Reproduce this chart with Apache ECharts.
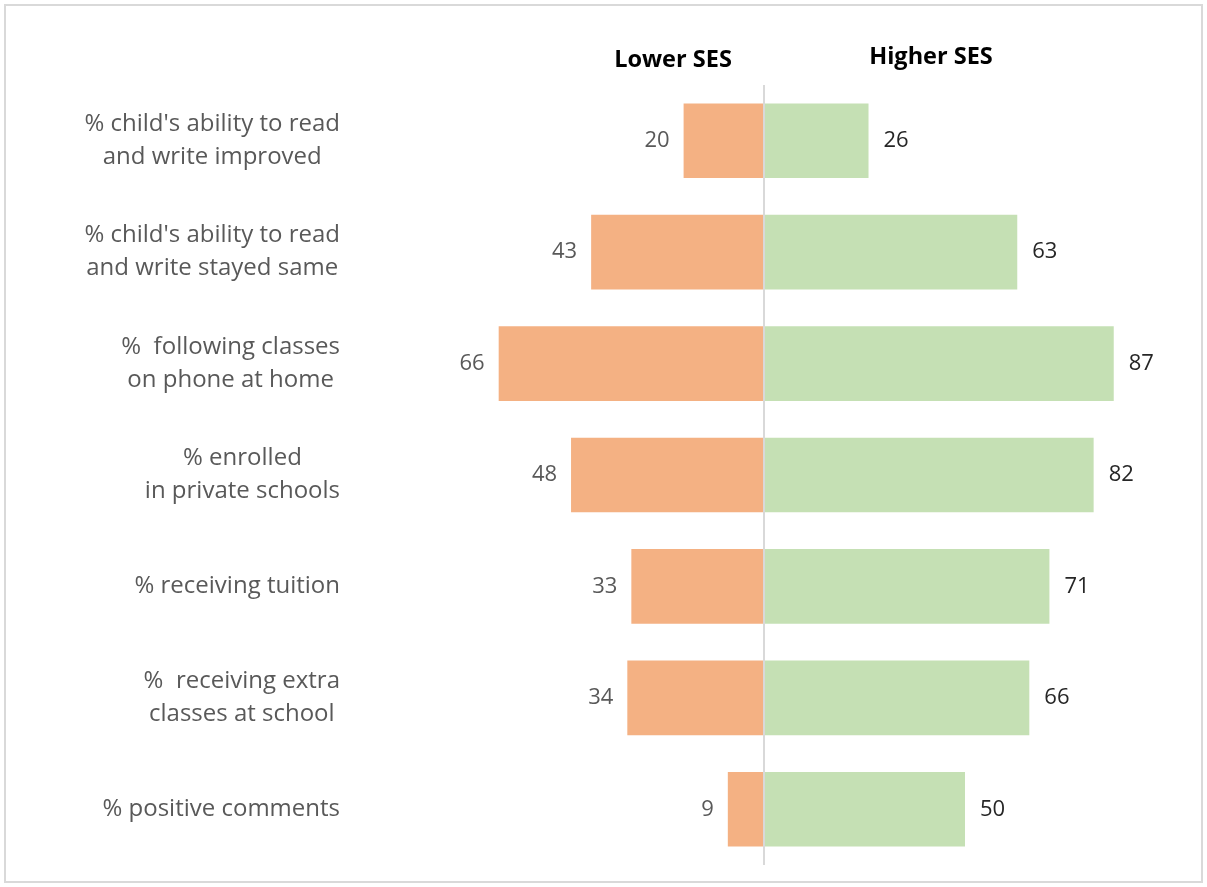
<!DOCTYPE html>
<html>
<head>
<meta charset="utf-8">
<script src="https://cdn.jsdelivr.net/npm/echarts@6/dist/echarts.min.js"></script>
<style>
html,body{margin:0;padding:0;background:#fff;}
#frame{position:absolute;left:4px;top:4px;width:1199px;height:879px;border:2px solid #d9d9d9;box-sizing:border-box;}
#chart{position:absolute;left:0;top:0;width:1207px;height:887px;}
</style>
</head>
<body>
<div id="frame"></div>
<div id="chart"></div>
<script>
const categories = [
  "% child's ability to read\nand write improved",
  "% child's ability to read\nand write stayed same",
  "%  following classes\non phone at home",
  "% enrolled\nin private schools",
  "% receiving tuition",
  "%  receiving extra\nclasses at school",
  "% positive comments"
];
const lowerSES = [20, 43, 66, 48, 33, 34, 9];
const higherSES = [26, 63, 87, 82, 71, 66, 50];
const seriesNames = ["Lower SES", "Higher SES"];

const FONT = 'Open Sans';
const chart = echarts.init(document.getElementById('chart'));
chart.setOption({
  animation: false,
  grid: {left: 362, right: 41, top: 85, bottom: 22},
  xAxis: {
    type: 'value', min: -100, max: 100, show: false
  },
  yAxis: {
    type: 'category', data: categories, inverse: true,
    axisLine: {show: false}, axisTick: {show: false}, splitLine: {show: false},
    axisLabel: {
      margin: 22, align: 'right',
      formatter: v => v.split('\n').map(l => '{c|' + l + '}').join('\n'),
      rich: {c: {align: 'center', fontFamily: FONT, fontSize: 24, color: '#595959', lineHeight: 33}}
    }
  },
  graphic: [
    {type: 'text', style: {text: seriesNames[0], x: 673, y: 60, align: 'center', verticalAlign: 'middle', fontFamily: FONT, fontSize: 23.5, fontWeight: 'bold', fill: '#000'}},
    {type: 'text', style: {text: seriesNames[1], x: 931, y: 57, align: 'center', verticalAlign: 'middle', fontFamily: FONT, fontSize: 23.5, fontWeight: 'bold', fill: '#000'}}
  ],
  series: [
    {
      name: seriesNames[0], type: 'bar', data: lowerSES.map(v => -v),
      barCategoryGap: '33%', barGap: '-100%',
      itemStyle: {color: '#F4B183'},
      label: {show: true, position: 'left', distance: 14, formatter: p => Math.abs(p.value),
        fontFamily: FONT, fontSize: 22, color: '#595959'},
      markLine: {
        silent: true, symbol: 'none', label: {show: false},
        lineStyle: {color: '#d9d9d9', width: 2, type: 'solid'},
        data: [{xAxis: 0}]
      }
    },
    {
      name: seriesNames[1], type: 'bar', data: higherSES,
      barCategoryGap: '33%', barGap: '-100%',
      itemStyle: {color: '#C5E0B4'},
      label: {show: true, position: 'right', distance: 15,
        fontFamily: FONT, fontSize: 22, color: '#262626'}
    }
  ]
});
</script>
</body>
</html>
